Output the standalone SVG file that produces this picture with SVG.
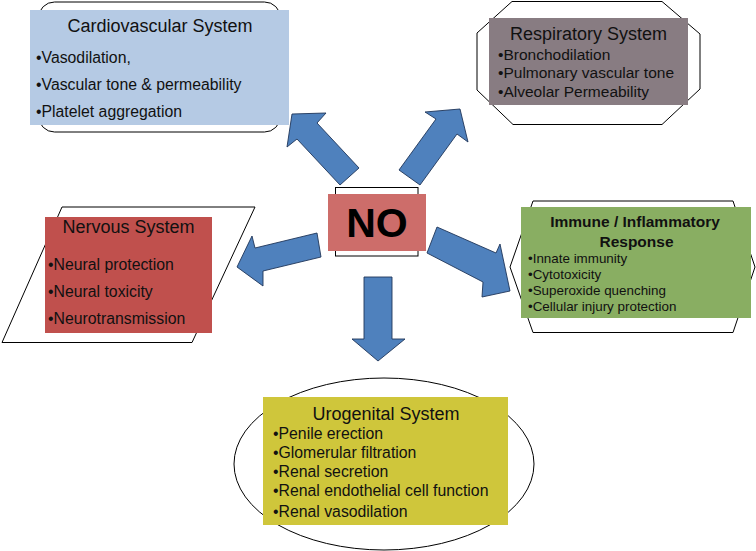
<svg xmlns="http://www.w3.org/2000/svg" width="756" height="551" viewBox="0 0 756 551">
<style>
  .outline { fill: none; stroke: #000; stroke-width: 1; }
  .t { font-family: "Liberation Sans", Arial, sans-serif; fill: #111; }
  .title { font-size: 18px; text-anchor: middle; }
  .b16 { font-size: 15.8px; }
  .b155 { font-size: 15.5px; }
  .imt { font-size: 15.5px; font-weight: bold; text-anchor: middle; }
  .b13 { font-size: 13.4px; }
  .arrow { fill: #4F81BD; stroke: #1F3559; stroke-width: 0.9; stroke-linejoin: miter; }
</style>
<rect width="756" height="551" fill="#fff"/>

<g id="cardiovascular">
  <rect class="outline" x="38.5" y="2" width="242" height="130" rx="16" ry="16"/>
  <rect x="30" y="10" width="259" height="115" fill="#B5CAE4"/>
  <text class="t title" x="160" y="32">Cardiovascular System</text>
  <text class="t b16" x="36" y="63">•Vasodilation,</text>
  <text class="t b16" x="36" y="90">•Vascular tone &amp; permeability</text>
  <text class="t b16" x="36" y="116.5">•Platelet aggregation</text>
</g>

<g id="respiratory">
  <polygon class="outline" points="512,1.5 662,1.5 700,34 700,89 662,124.5 513,124.5 477,90 477,33"/>
  <rect x="489" y="18" width="199" height="87" fill="#887C82"/>
  <text class="t title" x="588.5" y="40">Respiratory System</text>
  <text class="t b155" x="498" y="59.5">•Bronchodilation</text>
  <text class="t b155" x="498" y="78">•Pulmonary vascular tone</text>
  <text class="t b155" x="498" y="96.5">•Alveolar Permeability</text>
</g>

<g id="no">
  <rect class="outline" x="335.5" y="187.5" width="82.5" height="68.5"/>
  <rect x="328" y="194" width="98" height="57" fill="#CD6D6A"/>
  <text x="377" y="237" font-family="Liberation Sans, Arial, sans-serif" font-weight="bold" font-size="41" text-anchor="middle" fill="#000">NO</text>
</g>

<g id="nervous">
  <polygon class="outline" points="62,207 255,207 192,342.5 2,342.5"/>
  <rect x="45" y="217" width="167" height="116" fill="#C0504D"/>
  <text class="t title" x="128.5" y="233">Nervous System</text>
  <text class="t b16" x="48" y="270">•Neural protection</text>
  <text class="t b16" x="48" y="297">•Neural toxicity</text>
  <text class="t b16" x="48" y="323.5">•Neurotransmission</text>
</g>

<g id="immune">
  <polygon class="outline" points="533,201 733,201 755,267 733,332.5 533,332.5 510,267"/>
  <rect x="521" y="207" width="230" height="111" fill="#89AE62"/>
  <text class="t imt" x="635" y="227">Immune / Inflammatory</text>
  <text class="t imt" x="636.5" y="246.5">Response</text>
  <text class="t b13" x="528" y="263">•Innate immunity</text>
  <text class="t b13" x="528" y="279">•Cytotoxicity</text>
  <text class="t b13" x="528" y="295">•Superoxide quenching</text>
  <text class="t b13" x="528" y="311">•Cellular injury protection</text>
</g>

<g id="urogenital">
  <ellipse class="outline" cx="384" cy="464" rx="150" ry="86"/>
  <rect x="263" y="397" width="245" height="128" fill="#CFC63B"/>
  <text class="t title" x="386" y="420">Urogenital System</text>
  <text class="t b16" x="273" y="439">•Penile erection</text>
  <text class="t b16" x="273" y="458">•Glomerular filtration</text>
  <text class="t b16" x="273" y="477">•Renal secretion</text>
  <text class="t b16" x="273" y="496">•Renal endothelial cell function</text>
  <text class="t b16" x="273" y="517">•Renal vasodilation</text>
</g>

<g id="connectors">
  <polygon class="arrow" points="292,114 326,113 317,123 359,168 340,185 297,139 287,147"/>
  <polygon class="arrow" points="460,109 468,142 457,134 420,185 399,170 436,119 425,112"/>
  <polygon class="arrow" points="237,267 252,236 255,248 317,233 321,257 263,271 263,286"/>
  <polygon class="arrow" points="510,291 482,297 483,282 427,253 437,227 496,253 500,244"/>
  <polygon class="arrow" points="364,277 392,277 392,339 405,339 378,361 352,339 364,339"/>
</g>
</svg>
